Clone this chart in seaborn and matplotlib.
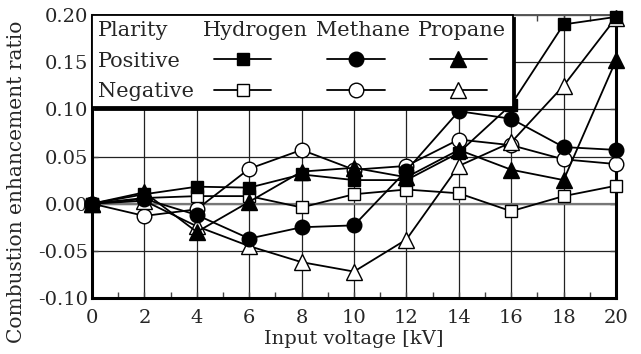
import numpy as np
import pandas as pd
import seaborn as sns
import matplotlib
matplotlib.use("Agg")
import matplotlib.pyplot as plt
from matplotlib.lines import Line2D
from matplotlib.legend_handler import HandlerLine2D

voltage = [0, 2, 4, 6, 8, 10, 12, 14, 16, 18, 20]
hydrogen_pos = [0.0, 0.010, 0.018, 0.017, 0.031, 0.025, 0.025, 0.054, 0.105, 0.190, 0.198]
hydrogen_neg = [0.0, 0.006, 0.008, 0.008, -0.004, 0.010, 0.015, 0.011, -0.008, 0.008, 0.019]
methane_pos = [0.0, 0.005, -0.012, -0.037, -0.025, -0.023, 0.035, 0.098, 0.090, 0.060, 0.057]
methane_neg = [0.0, -0.013, -0.006, 0.037, 0.057, 0.036, 0.040, 0.068, 0.062, 0.047, 0.042]
propane_pos = [0.0, 0.012, -0.030, 0.002, 0.034, 0.038, 0.028, 0.057, 0.036, 0.025, 0.152]
propane_neg = [0.0, 0.003, -0.024, -0.045, -0.062, -0.072, -0.038, 0.040, 0.065, 0.125, 0.197]

gases = ["Hydrogen", "Methane", "Propane"]
polarities = ["Positive", "Negative"]
series = {
    ("Hydrogen", "Positive"): hydrogen_pos,
    ("Hydrogen", "Negative"): hydrogen_neg,
    ("Methane", "Positive"): methane_pos,
    ("Methane", "Negative"): methane_neg,
    ("Propane", "Positive"): propane_pos,
    ("Propane", "Negative"): propane_neg,
}
xticks = [0, 2, 4, 6, 8, 10, 12, 14, 16, 18, 20]
yticks = [-0.10, -0.05, 0.00, 0.05, 0.10, 0.15, 0.20]

rows = []
for (g, p), vals in series.items():
    for x, y in zip(voltage, vals):
        rows.append({"gas": g, "polarity": p, "voltage": x, "ratio": y})
df = pd.DataFrame(rows)

sns.set_style("ticks")
plt.rcParams["font.family"] = ["DejaVu Serif"]
plt.rcParams["axes.unicode_minus"] = False

FS = 14
LFS = 15
marker_of = {"Hydrogen": "s", "Methane": "o", "Propane": "^"}
msize = {"s": 9, "o": 10.5, "^": 11}

fig = plt.figure(figsize=(6.41, 3.54), dpi=100)
ax = fig.add_axes([92 / 641, 1 - 298 / 354, (616 - 92) / 641, (298 - 15) / 354])

style = {}
for g in gases:
    for p in polarities:
        m = marker_of[g]
        style[(g, p)] = dict(marker=m, markersize=msize[m],
                             markerfacecolor="black" if p == "Positive" else "white",
                             markeredgecolor="black", markeredgewidth=1.0,
                             color="black", linewidth=1.3)

order = [("Methane", "Negative"), ("Hydrogen", "Negative"), ("Propane", "Negative"),
         ("Methane", "Positive"), ("Propane", "Positive"), ("Hydrogen", "Positive")]
for i, (g, p) in enumerate(order):
    sub = df[(df.gas == g) & (df.polarity == p)]
    sns.lineplot(data=sub, x="voltage", y="ratio", ax=ax, zorder=3 + i,
                 clip_on=False, **style[(g, p)])

ax.set_xlim(0, 20)
ax.set_ylim(-0.10, 0.20)
ax.set_xticks(xticks)
ax.set_yticks(yticks)
ax.set_xticks(np.arange(1, 20, 2), minor=True)
ax.set_xticklabels([str(t) for t in xticks], fontsize=FS)
ax.set_yticklabels([f"{t:.2f}" for t in yticks], fontsize=FS)
ax.tick_params(axis="both", which="both", direction="in", top=True, right=True,
               length=4, width=1, color="#444444")
ax.tick_params(axis="x", which="major", pad=8)
ax.tick_params(axis="y", which="major", pad=3)
ax.grid(True, which="major", color="#222222", linewidth=0.9)
ax.axhline(0, color="#777777", linewidth=1.6, zorder=1)
ax.set_axisbelow(True)
for side in ["left", "bottom", "right"]:
    ax.spines[side].set_linewidth(2.2)
    ax.spines[side].set_color("black")
ax.spines["top"].set_linewidth(1.4)
ax.spines["top"].set_color("#555555")

ax.set_xlabel("Input voltage [kV]", fontsize=FS, labelpad=2)
ax.set_ylabel("Combustion enhancement ratio", fontsize=14.5, labelpad=0)
ax.yaxis.set_label_coords(-0.125, 0.41)

# table-like legend
blank = Line2D([], [], linestyle="none", marker=None)
handles, labels = [], []
for lab in ["Plarity"] + polarities:
    handles.append(blank)
    labels.append(lab)
for g in gases:
    handles.append(blank)
    labels.append(g)
    for p in polarities:
        handles.append(Line2D([], [], **style[(g, p)]))
        labels.append("")
HL = 3.3
hmap = {h: HandlerLine2D(xpad=0.55) for h in handles if h is not blank}
leg = ax.legend(handles, labels, ncol=4, loc="upper left", bbox_to_anchor=(0, 1),
                borderaxespad=0, fontsize=LFS, frameon=True, fancybox=False,
                handlelength=HL, handletextpad=-HL, columnspacing=0.4,
                labelspacing=0.55, borderpad=0.3, handler_map=hmap,
                shadow={"color": "black", "alpha": 1})
leg.get_frame().set_edgecolor("black")
leg.get_frame().set_linewidth(1.3)
leg.get_frame().set_facecolor("white")
leg.set_zorder(20)

fig.savefig("out.png", dpi=100)
